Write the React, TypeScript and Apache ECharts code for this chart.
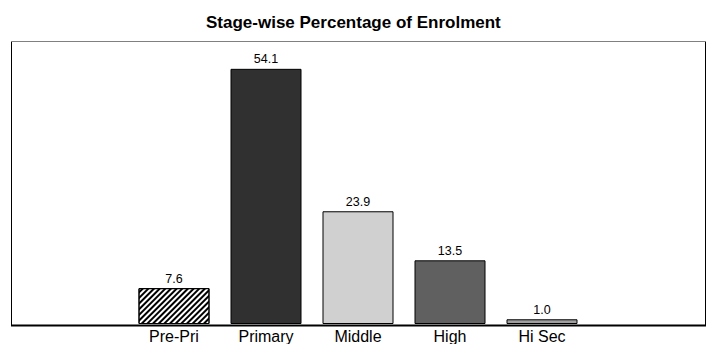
import React, { useEffect, useRef } from "react";
import * as echarts from "echarts";

const categories = ["Pre-Pri", "Primary", "Middle", "High", "Hi Sec"];
const values = [7.6, 54.1, 23.9, 13.5, 1.0];
const barColors = ["#ffffff", "#303030", "#d0d0d0", "#606060", "#a0a0a0"];
const titleText = "Stage-wise Percentage of Enrolment";

export default function App() {
  const ref = useRef<HTMLDivElement>(null);
  useEffect(() => {
    if (!ref.current) return;
    const chart = echarts.init(ref.current, null, { renderer: "svg" });
    const data = values.map((v, i) => {
      const item: any = {
        value: v,
        itemStyle: { color: barColors[i], borderColor: "#000", borderWidth: 1 },
      };
      if (i === 0) {
        item.itemStyle.decal = {
          symbol: "rect",
          symbolSize: 1,
          color: "#000",
          backgroundColor: "#e8e8e8",
          dashArrayX: [1, 0],
          dashArrayY: [1.6, 1.4],
          rotation: -Math.PI / 4,
        };
      }
      return item;
    });
    chart.setOption({
      animation: false,
      backgroundColor: "#fff",
      title: {
        text: titleText,
        left: 201,
        top: 9,
        textStyle: {
          fontFamily: "Liberation Sans, Arial, sans-serif",
          fontSize: 17,
          fontWeight: "bold",
          color: "#000",
        },
      },
      grid: { left: 128, right: 127, top: 41, bottom: 19 },
      xAxis: {
        type: "category",
        data: categories,
        axisLine: { show: false },
        axisTick: { show: false },
        axisLabel: {
          color: "#000",
          fontSize: 16,
          margin: 4,
          fontFamily: "Liberation Sans, Arial, sans-serif",
        },
      },
      yAxis: {
        type: "value",
        min: 0,
        max: 60,
        show: false,
        splitLine: { show: false },
      },
      graphic: [
        {
          type: "rect",
          shape: { x: 11.5, y: 41.5, width: 694, height: 284 },
          style: { fill: "none", stroke: "#000", lineWidth: 1 },
          z: 10,
        },
        {
          type: "line",
          shape: { x1: 11, y1: 41.5, x2: 706, y2: 41.5 },
          style: { stroke: "#808080", lineWidth: 1 },
          z: 11,
        },
        {
          type: "line",
          shape: { x1: 11, y1: 325.5, x2: 706, y2: 325.5 },
          style: { stroke: "#000", lineWidth: 2 },
          z: 11,
        },
      ],
      series: [
        {
          type: "bar",
          data,
          barWidth: 71,
          label: {
            show: true,
            position: "top",
            distance: 3,
            color: "#000",
            fontSize: 12.5,
            fontFamily: "Liberation Sans, Arial, sans-serif",
            formatter: (p: any) => Number(p.value).toFixed(1),
          },
        },
      ],
    });
    return () => chart.dispose();
  }, []);
  return <div ref={ref} style={{ width: 715, height: 344, position: "absolute", left: 0, top: 0 }} />;
}
